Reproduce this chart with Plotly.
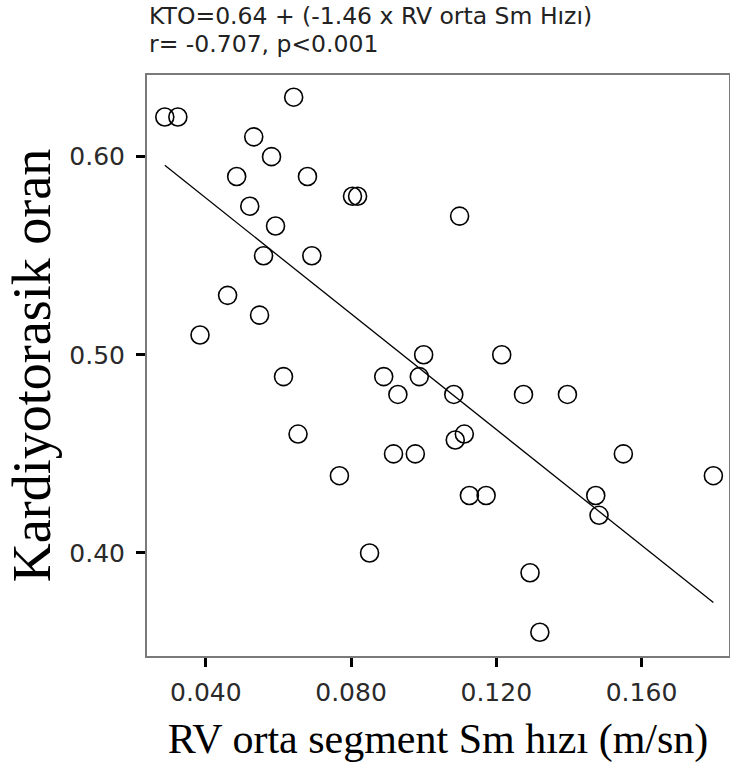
import plotly.graph_objects as go

# Data
sm_velocity = [0.0287, 0.0323, 0.0642, 0.0532, 0.0581, 0.0485, 0.0680, 0.0804, 0.0818,
               0.1099, 0.0521, 0.0592, 0.0559, 0.0692, 0.0460, 0.0548, 0.0384, 0.0614,
               0.1000, 0.1215, 0.0988, 0.0890, 0.0929, 0.1083, 0.1275, 0.1396, 0.1087,
               0.1112, 0.0917, 0.0977, 0.1126, 0.1172, 0.1293, 0.1320, 0.1550, 0.1474,
               0.1483, 0.1798, 0.0768, 0.0851, 0.0654]
ct_ratio = [0.620, 0.620, 0.630, 0.610, 0.600, 0.590, 0.590, 0.580, 0.580,
            0.570, 0.575, 0.565, 0.550, 0.550, 0.530, 0.520, 0.510, 0.489,
            0.500, 0.500, 0.489, 0.489, 0.480, 0.480, 0.480, 0.480, 0.457,
            0.460, 0.450, 0.450, 0.429, 0.429, 0.390, 0.360, 0.450, 0.429,
            0.419, 0.439, 0.439, 0.400, 0.460]

intercept = 0.6375
slope = -1.46

x_ticks = [0.040, 0.080, 0.120, 0.160]
x_tick_text = ["0.040", "0.080", "0.120", "0.160"]
y_ticks = [0.40, 0.50, 0.60]
y_tick_text = ["0.40", "0.50", "0.60"]

title_line1 = "KTO=0.64 + (-1.46 x RV orta Sm Hızı)"
title_line2 = "r= -0.707, p<0.001"
x_title = "RV orta segment Sm hızı (m/sn)"
y_title = "Kardiyotorasik oran"

x_min, x_max = min(sm_velocity), max(sm_velocity)
line_x = [x_min, x_max]
line_y = [intercept + slope * v for v in line_x]

fig = go.Figure()
fig.add_trace(go.Scatter(
    x=line_x, y=line_y, mode="lines",
    line=dict(color="black", width=1.3), hoverinfo="skip", showlegend=False))
fig.add_trace(go.Scatter(
    x=sm_velocity, y=ct_ratio, mode="markers",
    marker=dict(symbol="circle-open", size=18, color="black", line=dict(width=1.6)),
    showlegend=False))

axis_common = dict(
    showgrid=False, zeroline=False, showline=True, linecolor="#7a7a7a", linewidth=2,
    mirror=True, ticks="outside", ticklen=9, tickwidth=3, tickcolor="black",
    tickfont=dict(family="DejaVu Sans", size=25, color="#2a2a2a"),
)

fig.update_layout(
    width=730, height=772,
    margin=dict(l=147, r=1, t=75, b=116, autoexpand=False),
    paper_bgcolor="white", plot_bgcolor="white",
    xaxis=dict(range=[0.0238, 0.1841], tickvals=x_ticks, ticktext=x_tick_text,
               ticklabelstandoff=4,
               title=dict(text=x_title, standoff=18,
                          font=dict(family="Liberation Serif", size=42, color="black")),
               **axis_common),
    yaxis=dict(range=[0.348, 0.6412], tickvals=y_ticks, ticktext=y_tick_text,
               ticklabelstandoff=6,
               title=dict(text=y_title, standoff=1,
                          font=dict(family="Liberation Serif", size=54, color="black")),
               **axis_common),
    annotations=[
        dict(text=title_line1, xref="paper", yref="paper", x=0, y=1 + (75 - 16) / 581,
             xanchor="left", yanchor="middle", showarrow=False,
             font=dict(family="DejaVu Sans", size=23.5, color="#222222")),
        dict(text=title_line2, xref="paper", yref="paper", x=0, y=1 + (75 - 44) / 581,
             xanchor="left", yanchor="middle", showarrow=False,
             font=dict(family="DejaVu Sans", size=23.5, color="#222222")),
    ],
)

fig.write_html("out.html")
